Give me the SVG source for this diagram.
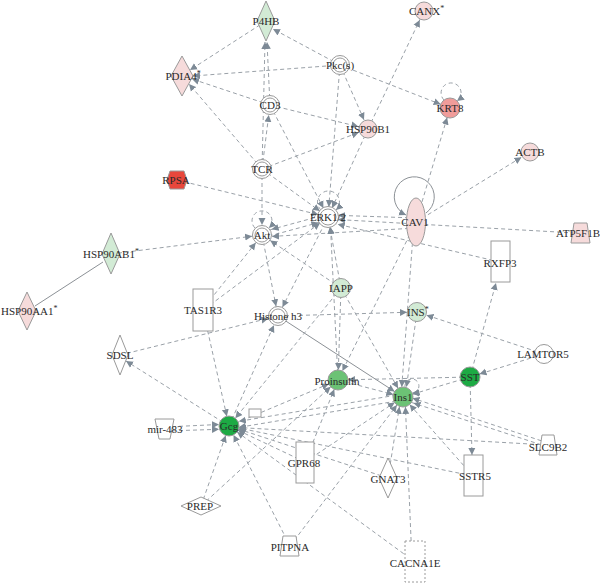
<svg xmlns="http://www.w3.org/2000/svg" width="600" height="583" viewBox="0 0 600 583">
<style>
.e line,.e path{stroke:#9aa1a8;stroke-width:1;fill:none;stroke-dasharray:4,3}
.e .s{stroke-dasharray:none;stroke:#8c9196}
.n{stroke:#9a9a9a;stroke-width:1}
.pk{fill:#f6dbdb}.lg{fill:#d2ebd5}.mg{fill:#6cc275}.dg{fill:#1daa44}.w{fill:#fff}.kr{fill:#f09c9a}.rd{fill:#e8473c}
text{font-family:"Liberation Serif","Times New Roman",serif;font-size:11px;fill:#2a2a2a;text-anchor:middle}
.st{text-anchor:start}
</style>
<defs>
<marker id="m10" viewBox="0 0 20 8" refX="17" refY="4" markerWidth="20" markerHeight="8" markerUnits="userSpaceOnUse" orient="auto"><path d="M0,0.5 L7,4 L0,7.5 z" fill="#7d8a96"/></marker>
<marker id="m0" viewBox="0 0 8 8" refX="7" refY="4" markerWidth="8" markerHeight="8" markerUnits="userSpaceOnUse" orient="auto"><path d="M0,0.5 L7,4 L0,7.5 z" fill="#7d8a96"/></marker>
</defs>
<rect width="600" height="583" fill="#fff"/>
<g id="connectors" class="e">
<line x1="340" y1="65" x2="273" y2="29" marker-end="url(#m0)"/>
<line x1="340" y1="65" x2="193" y2="76" marker-end="url(#m0)"/>
<line x1="266" y1="21" x2="190" y2="70" marker-end="url(#m0)"/>
<line x1="270" y1="105" x2="192" y2="79" marker-end="url(#m0)"/>
<line x1="262" y1="169" x2="189" y2="84" marker-end="url(#m0)"/>
<line x1="262" y1="169" x2="265" y2="42" marker-end="url(#m0)"/>
<line x1="270" y1="105" x2="267" y2="42" marker-end="url(#m0)"/>
<line x1="262" y1="169" x2="270" y2="105" marker-end="url(#m10)"/>
<line x1="340" y1="65" x2="450" y2="108" marker-end="url(#m10)"/>
<line x1="340" y1="65" x2="368" y2="129" marker-end="url(#m10)"/>
<line x1="270" y1="105" x2="368" y2="129" marker-end="url(#m10)"/>
<line x1="262" y1="169" x2="368" y2="129" marker-end="url(#m10)"/>
<line x1="368" y1="129" x2="424" y2="11" marker-end="url(#m10)"/>
<line x1="416" y1="222" x2="450" y2="108" marker-end="url(#m10)"/>
<line x1="416" y1="222" x2="530" y2="152" marker-end="url(#m10)"/>
<line x1="340" y1="65" x2="328" y2="217" marker-end="url(#m10)"/>
<line x1="270" y1="105" x2="328" y2="217" marker-end="url(#m10)"/>
<line x1="262" y1="169" x2="328" y2="217" marker-end="url(#m10)"/>
<line x1="368" y1="129" x2="328" y2="217" marker-end="url(#m10)"/>
<line x1="177" y1="180" x2="328" y2="217" marker-end="url(#m10)"/>
<line x1="262" y1="169" x2="262" y2="235" marker-end="url(#m10)"/>
<line x1="111" y1="254" x2="262" y2="235" marker-end="url(#m10)"/>
<line x1="328" y1="214" x2="262" y2="232" marker-end="url(#m10)"/>
<line x1="262" y1="238" x2="328" y2="220" marker-end="url(#m10)"/>
<line x1="416" y1="218" x2="328" y2="215" marker-end="url(#m10)"/>
<line x1="416" y1="228" x2="262" y2="237" marker-end="url(#m10)"/>
<line x1="575" y1="233" x2="328" y2="219" marker-end="url(#m10)"/>
<line x1="500" y1="262" x2="328" y2="222" marker-end="url(#m10)"/>
<line x1="341" y1="288" x2="328" y2="217" marker-end="url(#m10)"/>
<line x1="338" y1="380" x2="330" y2="217" marker-end="url(#m10)"/>
<line x1="341" y1="288" x2="262" y2="235" marker-end="url(#m10)"/>
<line x1="341" y1="288" x2="338" y2="380" marker-end="url(#m10)"/>
<line x1="341" y1="288" x2="403" y2="397" marker-end="url(#m10)"/>
<line x1="210" y1="300" x2="262" y2="235" marker-end="url(#m10)"/>
<line x1="210" y1="305" x2="328" y2="217" marker-end="url(#m10)"/>
<line x1="262" y1="235" x2="278" y2="316" marker-end="url(#m10)"/>
<line x1="328" y1="217" x2="278" y2="316" marker-end="url(#m10)"/>
<line x1="120" y1="355" x2="278" y2="316" marker-end="url(#m10)"/>
<line x1="229" y1="426" x2="278" y2="316" marker-end="url(#m10)"/>
<line class="s" x1="278" y1="316" x2="403" y2="397" marker-end="url(#m10)"/>
<line x1="278" y1="316" x2="417" y2="312" marker-end="url(#m10)"/>
<line x1="544" y1="354" x2="417" y2="312" marker-end="url(#m10)"/>
<line x1="544" y1="354" x2="470" y2="377" marker-end="url(#m10)"/>
<line x1="470" y1="377" x2="496" y2="283" marker-end="url(#m0)"/>
<line x1="416" y1="222" x2="338" y2="380" marker-end="url(#m10)"/>
<line x1="414" y1="222" x2="401" y2="397" marker-end="url(#m10)"/>
<line x1="417" y1="312" x2="405" y2="397" marker-end="url(#m10)"/>
<line x1="412" y1="562" x2="405" y2="397" marker-end="url(#m10)"/>
<line x1="388" y1="478" x2="401" y2="397" marker-end="url(#m10)"/>
<line x1="470" y1="377" x2="403" y2="397" marker-end="url(#m10)"/>
<line x1="470" y1="377" x2="338" y2="380" marker-end="url(#m10)"/>
<line x1="473" y1="476" x2="403" y2="397" marker-end="url(#m10)"/>
<line x1="470" y1="377" x2="472" y2="455" marker-end="url(#m0)"/>
<line x1="548" y1="443" x2="403" y2="395" marker-end="url(#m10)"/>
<line x1="548" y1="447" x2="404" y2="400" marker-end="url(#m10)"/>
<line x1="290" y1="546" x2="403" y2="397" marker-end="url(#m10)"/>
<line x1="305" y1="462" x2="403" y2="397" marker-end="url(#m10)"/>
<line x1="338" y1="380" x2="403" y2="397" marker-end="url(#m10)"/>
<line x1="229" y1="426" x2="338" y2="380" marker-end="url(#m10)"/>
<line x1="305" y1="462" x2="338" y2="380" marker-end="url(#m10)"/>
<line x1="201" y1="506" x2="338" y2="380" marker-end="url(#m10)"/>
<line x1="201" y1="506" x2="229" y2="426" marker-end="url(#m10)"/>
<line x1="290" y1="546" x2="229" y2="426" marker-end="url(#m10)"/>
<line x1="415" y1="562" x2="229" y2="426" marker-end="url(#m10)"/>
<line x1="388" y1="478" x2="229" y2="426" marker-end="url(#m10)"/>
<line x1="473" y1="476" x2="229" y2="426" marker-end="url(#m10)"/>
<line x1="305" y1="462" x2="229" y2="426" marker-end="url(#m10)"/>
<line x1="165" y1="427" x2="229" y2="424" marker-end="url(#m10)"/>
<line x1="165" y1="431" x2="229" y2="429" marker-end="url(#m10)"/>
<line x1="229" y1="426" x2="126" y2="361" marker-end="url(#m0)"/>
<line x1="203" y1="310" x2="229" y2="426" marker-end="url(#m10)"/>
<line x1="403" y1="394" x2="229" y2="423" marker-end="url(#m10)"/>
<line x1="403" y1="400" x2="229" y2="429" marker-end="url(#m10)"/>
<line x1="341" y1="288" x2="229" y2="426" marker-end="url(#m10)"/>
<line x1="548" y1="445" x2="229" y2="427" marker-end="url(#m10)"/>
<path d="M321,210 A11,11 0 1,1 336,210" marker-end="url(#m0)"/>
<path d="M255,228 A10,10 0 1,1 269,228" marker-end="url(#m0)"/>
<path d="M444,100 A10,10 0 1,1 457,101" marker-end="url(#m0)"/>
<path d="M405,387 A7,7 0 1,1 412,393" marker-end="url(#m0)"/>
<path class="s" d="M426,213 A20,20 0 1,0 406,215" marker-end="url(#m0)"/>
<line class="s" x1="103" y1="262" x2="35" y2="306"/>
</g>
<g id="P4HB"><polygon class="n lg" points="266,1 275,21 266,41 257,21"/><text x="266" y="25">P4HB</text></g>
<g id="PDIA4"><polygon class="n pk" points="182,56 193,76 182,96 171,76"/><text class="st" x="165.5" y="80">PDIA4<tspan font-size="8" dy="-4">*</tspan></text></g>
<g id="Pkc"><circle class="n w" cx="340" cy="65" r="9.5"/><circle class="n w" cx="340" cy="65" r="7"/><text x="340" y="69">Pkc(s)</text></g>
<g id="CANX"><circle class="n pk" cx="424" cy="11" r="9"/><text class="st" x="409" y="15">CANX<tspan font-size="8" dy="-4">*</tspan></text></g>
<g id="CD3"><circle class="n w" cx="270" cy="105" r="9.5"/><circle class="n w" cx="270" cy="105" r="7"/><text x="270" y="109">CD3</text></g>
<g id="HSP90B1"><circle class="n pk" cx="368" cy="129" r="9"/><text x="368" y="133">HSP90B1</text></g>
<g id="KRT8"><circle class="n kr" cx="450" cy="108" r="10"/><text x="450" y="112">KRT8</text></g>
<g id="ACTB"><circle class="n pk" cx="530" cy="152" r="9"/><text x="530" y="156">ACTB</text></g>
<g id="TCR"><circle class="n w" cx="262" cy="169" r="9.5"/><circle class="n w" cx="262" cy="169" r="7"/><text x="262" y="173">TCR</text></g>
<g id="RPSA"><polygon class="n rd" points="170,171 184,171 187,180 184,189 170,189 167,180"/><text x="176" y="184">RPSA</text></g>
<g id="ERK12"><circle class="n w" cx="328" cy="217" r="10.5"/><circle class="n w" cx="328" cy="217" r="8"/><text x="328" y="221">ERK1/2</text></g>
<g id="Akt"><circle class="n w" cx="262" cy="235" r="9.5"/><circle class="n w" cx="262" cy="235" r="7"/><text x="262" y="239">Akt</text></g>
<g id="CAV1"><ellipse class="n pk" cx="416" cy="222" rx="9.5" ry="24"/><text x="415" y="226">CAV1</text></g>
<g id="ATP5F1B"><polygon class="n pk" points="574,223 587,223 590,243 571,243"/><text x="578" y="237">ATP5F1B</text></g>
<g id="HSP90AB1"><polygon class="n lg" points="111,233 120,254 111,274 102,254"/><text class="st" x="83" y="258">HSP90AB1<tspan font-size="8" dy="-4">*</tspan></text></g>
<g id="HSP90AA1"><polygon class="n pk" points="27,292 36,311 27,330 18,311"/><text class="st" x="1" y="315">HSP90AA1<tspan font-size="8" dy="-4">*</tspan></text></g>
<g id="RXFP3"><rect class="n w" x="491" y="241" width="19" height="41"/><text x="500" y="267">RXFP3</text></g>
<g id="IAPP"><circle class="n lg" cx="341" cy="288" r="9.5"/><text x="341" y="292">IAPP</text></g>
<g id="TAS1R3"><rect class="n w" x="193" y="289" width="20" height="42"/><text x="203" y="314">TAS1R3</text></g>
<g id="Histoneh3"><circle class="n w" cx="278" cy="316" r="9.5"/><circle class="n w" cx="278" cy="316" r="7"/><text x="278" y="320">Histone h3</text></g>
<g id="INS"><circle class="n lg" cx="417" cy="312" r="9.5"/><text class="st" x="407" y="316">INS<tspan font-size="8" dy="-4">*</tspan></text></g>
<g id="SDSL"><polygon class="n w" points="120,335 128,355 120,375 112,355"/><text x="120" y="359">SDSL</text></g>
<g id="LAMTOR5"><circle class="n w" cx="544" cy="354" r="9.5"/><text x="543" y="358">LAMTOR5</text></g>
<g id="Proinsulin"><circle class="n mg" cx="338" cy="380" r="10"/><text x="337" y="385">Proinsulin</text></g>
<g id="SST"><circle class="n dg" cx="470" cy="377" r="10"/><text x="470" y="381">SST</text></g>
<g id="Ins1"><circle class="n mg" cx="403" cy="397" r="10"/><text x="403" y="401">Ins1</text></g>
<g id="Gcg"><circle class="n dg" cx="229" cy="426" r="10"/><text x="229" y="430">Gcg</text></g>
<g id="unlabeled"><rect class="n w" x="249" y="409" width="12" height="8"/></g>
<g id="mir483"><polygon class="n w" points="155,419 174,419 170,439 159,439"/><text x="165" y="433">mir-483</text></g>
<g id="GPR68"><rect class="n w" x="296" y="442" width="18" height="41"/><text x="304" y="467">GPR68</text></g>
<g id="GNAT3"><polygon class="n w" points="388,458 397,478 388,498 379,478"/><text x="388" y="483">GNAT3</text></g>
<g id="SSTR5"><rect class="n w" x="464" y="455" width="19" height="41"/><text x="475" y="480">SSTR5</text></g>
<g id="SLC9B2"><polygon class="n w" points="542,435 554,435 557,455 539,455"/><text x="548" y="451">SLC9B2</text></g>
<g id="PREP"><polygon class="n w" points="181,506 201,497 221,506 201,515"/><text x="200" y="510">PREP</text></g>
<g id="PITPNA"><polygon class="n w" points="283,536 296,536 299,556 280,556"/><text x="290" y="551">PITPNA</text></g>
<g id="CACNA1E"><rect class="n w" x="405" y="541" width="20" height="41" stroke-dasharray="2,2"/><text x="415" y="567">CACNA1E</text></g>
</svg>
